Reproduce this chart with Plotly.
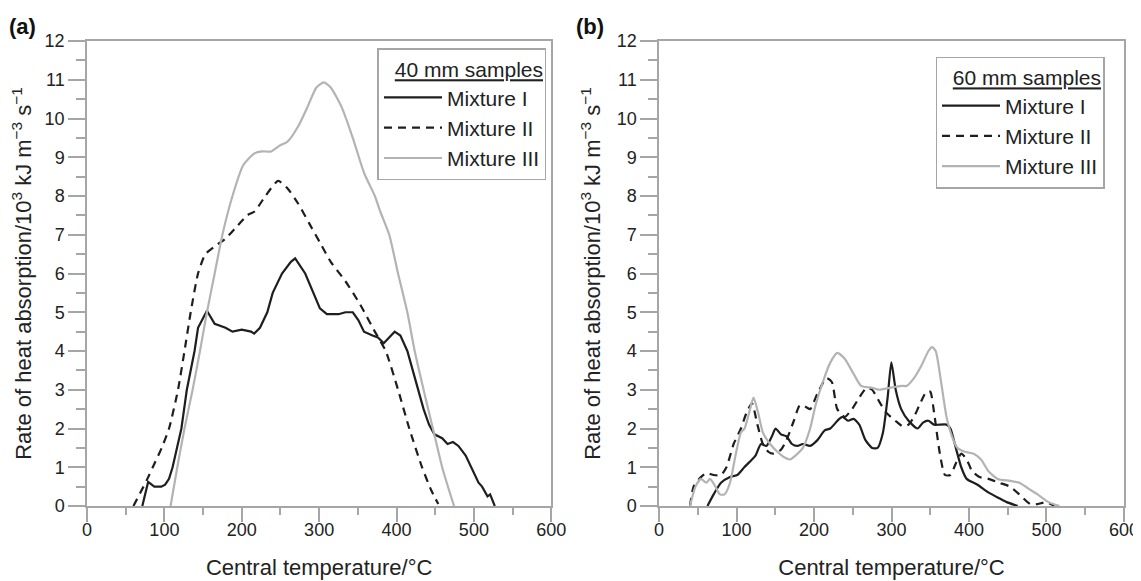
import plotly.graph_objects as go

# ---- data ----
a_mix1_x = [71.5, 79, 87, 96, 101, 106, 110.6, 122, 129, 139, 143.5, 155, 165, 179, 188, 200, 212, 216,
            223.5, 233, 240, 252, 263.5, 269, 282, 292, 301, 310, 325, 334, 343.5, 350.6, 358, 369, 376,
            383.5, 390.6, 397.6, 405, 414, 421, 428, 435, 442, 449, 459, 466, 473, 480, 489.4, 496.5, 506,
            510.6, 517.6, 521, 524.7, 527]
a_mix1_y = [0, 0.62, 0.5, 0.5, 0.55, 0.7, 1.0, 2.0, 3.0, 4.0, 4.6, 5.04, 4.7, 4.6, 4.5, 4.55, 4.5, 4.45,
            4.6, 5.0, 5.5, 6.0, 6.3, 6.39, 6.0, 5.5, 5.1, 4.95, 4.95, 5.0, 5.0, 4.8, 4.5, 4.4, 4.35,
            4.2, 4.35, 4.5, 4.4, 4.0, 3.5, 3.0, 2.5, 2.1, 1.85, 1.75, 1.6, 1.65, 1.55, 1.3, 1.0, 0.6,
            0.5, 0.25, 0.3, 0.1, 0]

a_mix2_x = [60, 73, 78, 85, 96.5, 106, 117.6, 126, 134, 143.5, 153, 165, 179, 193, 207, 216.5, 230.6, 247,
            259, 273, 287, 301, 315, 334, 353, 372, 386, 402, 416.5, 433, 445, 454]
a_mix2_y = [0, 0.5, 0.7, 1.0, 1.5, 2.0, 3.0, 4.0, 5.0, 6.0, 6.5, 6.7, 6.9, 7.2, 7.5, 7.6, 8.0, 8.39,
            8.2, 7.8, 7.3, 6.8, 6.3, 5.8, 5.2, 4.5, 4.0, 3.0, 2.0, 1.0, 0.4, 0.05]

a_mix3_x = [108, 116.7, 126, 136.5, 146, 155, 165, 175, 188, 202, 216.5, 226, 238, 249, 259, 273, 285,
            296.5, 306, 315, 329, 343.5, 358, 372, 379, 390.6, 402, 414, 423.5, 435, 447, 459, 468, 474.4]
a_mix3_y = [0, 1, 2, 3, 4, 5, 6, 7, 8, 8.8, 9.1, 9.15, 9.15, 9.3, 9.4, 9.8, 10.3,
            10.8, 10.93, 10.8, 10.3, 9.5, 8.6, 8.0, 7.6, 7.0, 6.0, 5.0, 4.0, 3.0, 2.0, 1.0, 0.4, 0]

b_mix1_x = [62.5, 70.5, 80, 91.6, 101, 110, 120, 124.5, 131.6, 138.6, 145.7, 150.4, 157.4, 164.4, 171.5,
            178.5, 185.6, 195, 204.4, 213.8, 221, 232.6, 237, 244, 251, 258.4, 266.4, 275, 282, 289, 295,
            299.8, 305.4, 312.5, 322, 333.6, 340.6, 347.7, 354.7, 371, 376, 383, 390, 397, 411, 425, 439,
            448.7, 462.8]
b_mix1_y = [0, 0.3, 0.6, 0.75, 0.8, 1.0, 1.2, 1.3, 1.6, 1.55, 1.8, 2.0, 1.85, 1.8, 1.6,
            1.55, 1.6, 1.55, 1.7, 1.95, 2.0, 2.25, 2.3, 2.2, 2.25, 2.1, 1.7, 1.5, 1.5, 1.9, 2.8,
            3.71, 3.0, 2.5, 2.2, 2.0, 2.15, 2.2, 2.1, 2.1, 2.0, 1.5, 1.0, 0.7, 0.55, 0.35, 0.2,
            0.1, 0]

b_mix2_x = [40, 44.6, 51.7, 61, 70.5, 80, 87, 96.3, 105.7, 112.8, 120, 127, 134, 141, 148, 157.4, 164.4,
            174, 181.8, 190, 195, 204.4, 216, 223, 230, 239.6, 249, 258.4, 268, 275, 284, 293.6, 305,
            315, 322, 329, 336, 345, 350, 355, 362, 369, 376, 383, 390, 397, 404, 413.5, 425, 439, 453,
            465, 479, 488.6, 500, 510]
b_mix2_y = [0, 0.5, 0.7, 0.85, 0.8, 0.8, 1.0, 1.6, 2.0, 2.4, 2.65, 2.1, 1.6, 1.4, 1.35, 1.45, 1.7,
            2.2, 2.6, 2.55, 2.5, 2.9, 3.3, 3.2, 2.5, 2.3, 2.5, 2.8, 3.05, 3.0, 2.7, 2.4, 2.2,
            2.05, 2.1, 2.3, 2.6, 2.95, 2.95, 2.4, 1.4, 0.8, 0.8, 1.1, 1.35, 1.2, 0.9, 0.75, 0.7, 0.6, 0.5,
            0.3, 0.05, 0.05, 0.1, 0]

b_mix3_x = [40, 47, 54, 61, 65.8, 72.8, 78.5, 84.6, 91.6, 98.7, 105.7, 110.4, 117.5, 122, 128, 134, 143.3,
            152.7, 162, 169, 176, 185.6, 195, 202, 211.4, 221, 230, 239.6, 251.4, 260.8, 275, 284, 298,
            312.5, 319.5, 329, 338, 347.7, 352.3, 357, 364, 371, 378, 385, 394.5, 406, 415.6, 425, 437,
            453, 465, 476.7, 488.6, 502.7, 516.7]
b_mix3_y = [0, 0.5, 0.7, 0.6, 0.7, 0.5, 0.3, 0.3, 0.6, 1.3, 1.9, 2.0, 2.5, 2.8, 2.4, 1.9, 1.6,
            1.4, 1.25, 1.2, 1.3, 1.5, 2.0, 2.6, 3.2, 3.7, 3.95, 3.8, 3.4, 3.1, 3.05, 3.0, 3.05,
            3.1, 3.1, 3.3, 3.6, 4.0, 4.1, 4.0, 3.2, 2.3, 1.8, 1.5, 1.4, 1.35, 1.2, 0.9, 0.7,
            0.65, 0.6, 0.45, 0.3, 0.1, 0]

series_names = ["Mixture I", "Mixture II", "Mixture III"]
legend_titles = ["40 mm samples", "60 mm samples"]
panel_labels = ["(a)", "(b)"]
x_title = "Central temperature/°C"
y_title = "Rate of heat absorption/10<sup>3</sup> kJ m<sup>−3</sup> s<sup>−1</sup>"

FONT = "Liberation Sans, Arial, Helvetica, sans-serif"
AX = "#a6a6a6"
TXT = "#222222"

styles = [
    dict(color="#1e1e1e", width=2.2, dash="solid"),
    dict(color="#1e1e1e", width=2.2, dash="8px,6px"),
    dict(color="#b3b3b3", width=2.2, dash="solid"),
]

fig = go.Figure()
panels = [
    ("x", "y", "legend", [(a_mix1_x, a_mix1_y), (a_mix2_x, a_mix2_y), (a_mix3_x, a_mix3_y)], [False, True, True]),
    ("x2", "y2", "legend2", [(b_mix1_x, b_mix1_y), (b_mix2_x, b_mix2_y), (b_mix3_x, b_mix3_y)], [True, True, True]),
]
for xa, ya, lg, data, smooth in panels:
    for (xs, ys), name, st, sm in zip(data, series_names, styles, smooth):
        line = dict(st)
        if sm:
            line.update(shape="spline", smoothing=0.6)
        fig.add_trace(go.Scatter(
            x=xs, y=ys, mode="lines", name=name,
            line=line, xaxis=xa, yaxis=ya, legend=lg,
            hoverinfo="skip",
        ))

xcommon = dict(
    range=[0, 600], dtick=100, tick0=0, automargin=False,
    showline=True, linecolor=AX, linewidth=1.5, mirror=True,
    ticks="outside", ticklen=14, tickwidth=1.5, tickcolor=AX,
    minor=dict(dtick=50, ticks="outside", ticklen=7, tickwidth=1.5, tickcolor=AX),
    showgrid=False, zeroline=False,
    tickfont=dict(family=FONT, size=18, color=TXT),
    ticklabelstandoff=-7,
    title=dict(text=x_title, font=dict(family=FONT, size=22, color=TXT), standoff=20),
)
ycommon = dict(
    range=[0, 12], dtick=1, tick0=0, automargin=False,
    showline=True, linecolor=AX, linewidth=1.5, mirror=True,
    ticks="outside", ticklen=17, tickwidth=1.5, tickcolor=AX,
    minor=dict(dtick=0.5, ticks="outside", ticklen=9, tickwidth=1.5, tickcolor=AX),
    showgrid=False, zeroline=False,
    tickfont=dict(family=FONT, size=18, color=TXT),
    title=dict(text=y_title, font=dict(family=FONT, size=22, color=TXT), standoff=10),
)

legend_common = dict(
    bgcolor="white", bordercolor=AX, borderwidth=1.5,
    font=dict(family=FONT, size=21, color=TXT),
    itemwidth=58, xanchor="right", yanchor="top",
    tracegroupgap=0,
)

# page body has an 8px margin, so the figure is 8px smaller than the window
fig.update_layout(
    width=1133, height=573,
    margin=dict(l=79, r=17, t=33, b=75),
    paper_bgcolor="white", plot_bgcolor="white",
    xaxis=dict(domain=[0, 0.4477], anchor="y", **xcommon),
    yaxis=dict(domain=[0, 1], anchor="x", **ycommon),
    xaxis2=dict(domain=[0.5516, 1], anchor="y2", **xcommon),
    yaxis2=dict(domain=[0, 1], anchor="x2", **ycommon),
    legend=dict(x=0.4431, y=0.984,
                title=dict(text="<u>" + legend_titles[0] + "</u>", side="top right",
                           font=dict(family=FONT, size=21, color=TXT)),
                **legend_common),
    legend2=dict(x=0.9812, y=0.9665,
                 title=dict(text="<u>" + legend_titles[1] + "</u>", side="top right",
                            font=dict(family=FONT, size=21, color=TXT)),
                 **legend_common),
    showlegend=True,
)

for lab, xp in zip(panel_labels, [-0.077, 0.4692]):
    fig.add_annotation(
        text="<b>" + lab + "</b>", xref="paper", yref="paper",
        x=xp, y=1.0316, xanchor="left", yanchor="middle", showarrow=False,
        font=dict(family=FONT, size=22, color="#111111"),
    )

fig.write_html("out.html")
